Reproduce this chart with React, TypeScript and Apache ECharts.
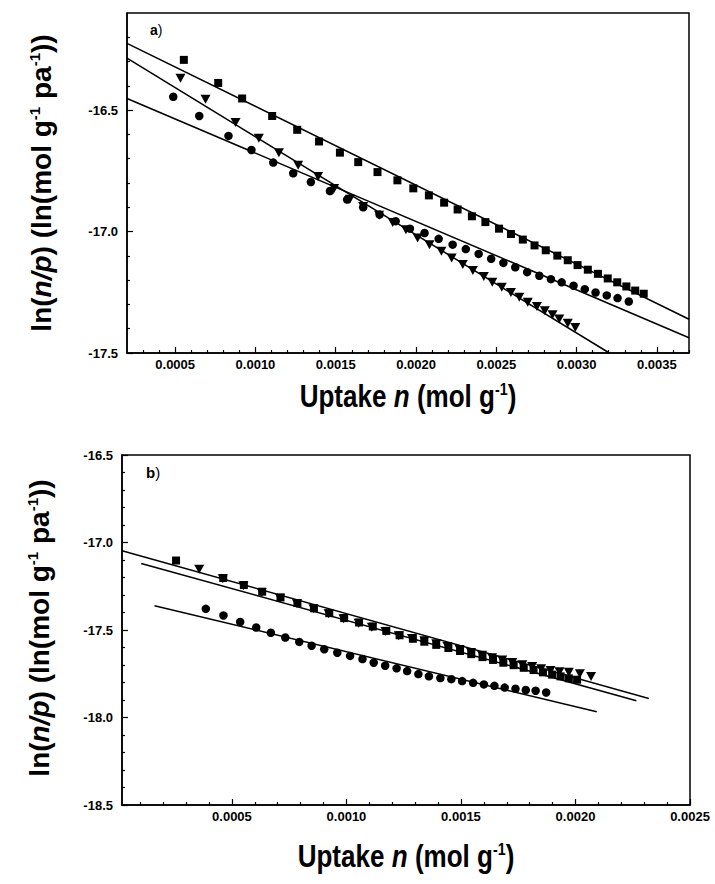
import React, { useEffect, useRef } from "react";
import * as echarts from "echarts";

// ---------- Panel a) data ----------
const aSquares: number[][] = [
  [0.000554, -16.293], [0.000768, -16.388], [0.000917, -16.452], [0.001104, -16.524],
  [0.00126, -16.581], [0.001396, -16.629], [0.001526, -16.675], [0.00164, -16.714],
  [0.00176, -16.755], [0.001884, -16.789], [0.001983, -16.822], [0.00208, -16.851],
  [0.002175, -16.881], [0.002259, -16.909], [0.002348, -16.937], [0.002432, -16.961],
  [0.002517, -16.988], [0.002591, -17.01], [0.002665, -17.033], [0.002738, -17.057],
  [0.002808, -17.077], [0.00288, -17.099], [0.002945, -17.118], [0.003006, -17.138],
  [0.00307, -17.157], [0.003133, -17.174], [0.003194, -17.193], [0.003253, -17.209],
  [0.00331, -17.226], [0.003365, -17.243], [0.003418, -17.256],
];
const aCircles: number[][] = [
  [0.000488, -16.445], [0.00065, -16.524], [0.000832, -16.606], [0.000975, -16.664],
  [0.001111, -16.716], [0.001235, -16.76], [0.001345, -16.796], [0.001464, -16.833],
  [0.001571, -16.868], [0.001671, -16.9], [0.001773, -16.93], [0.001873, -16.957],
  [0.001962, -16.988], [0.002053, -17.006], [0.002141, -17.03], [0.002228, -17.054],
  [0.00231, -17.072], [0.00239, -17.092], [0.002468, -17.112], [0.002544, -17.129],
  [0.002618, -17.147], [0.002692, -17.167], [0.002768, -17.182], [0.00284, -17.196],
  [0.002907, -17.209], [0.002981, -17.223], [0.003051, -17.237], [0.003118, -17.251],
  [0.003188, -17.263], [0.003255, -17.274], [0.003325, -17.288],
];
const aTriangles: number[][] = [
  [0.000533, -16.369], [0.000689, -16.455], [0.000876, -16.551], [0.001021, -16.616],
  [0.001146, -16.675], [0.001266, -16.727], [0.00139, -16.773], [0.00149, -16.823],
  [0.001588, -16.867], [0.001671, -16.897], [0.00177, -16.933], [0.001855, -16.963],
  [0.001937, -16.992], [0.00201, -17.026], [0.002084, -17.054], [0.002158, -17.081],
  [0.002222, -17.109], [0.002291, -17.136], [0.002354, -17.16], [0.002422, -17.185],
  [0.002475, -17.209], [0.002534, -17.229], [0.002591, -17.251], [0.002643, -17.27],
  [0.002696, -17.291], [0.002753, -17.309], [0.002802, -17.326], [0.00285, -17.343],
  [0.002892, -17.36], [0.002945, -17.377], [0.002992, -17.395],
];
const aFitSquares: number[][] = [[0.0002, -16.225], [0.0037, -17.361]];
const aFitTriangles: number[][] = [[0.0002, -16.286], [0.003204, -17.5]];
const aFitCircles: number[][] = [[0.0002, -16.452], [0.0037, -17.437]];

// ---------- Panel b) data ----------
const bSquares: number[][] = [
  [0.000256, -17.103], [0.000462, -17.203], [0.000552, -17.243], [0.000632, -17.281],
  [0.000712, -17.314], [0.000786, -17.346], [0.000858, -17.376], [0.000925, -17.404],
  [0.00099, -17.432], [0.001055, -17.457], [0.001115, -17.48], [0.001174, -17.505],
  [0.001232, -17.53], [0.00129, -17.55], [0.00134, -17.567], [0.001392, -17.585],
  [0.001445, -17.603], [0.001496, -17.62], [0.001545, -17.638], [0.001594, -17.655],
  [0.00164, -17.671], [0.001685, -17.687], [0.00173, -17.701], [0.001774, -17.716],
  [0.001817, -17.729], [0.001858, -17.742], [0.001898, -17.755], [0.001935, -17.765],
  [0.001971, -17.776], [0.002007, -17.784],
];
const bCircles: number[][] = [
  [0.000386, -17.379], [0.000463, -17.417], [0.000536, -17.454], [0.000606, -17.486],
  [0.00067, -17.516], [0.000733, -17.543], [0.000794, -17.568], [0.000848, -17.59],
  [0.000903, -17.61], [0.00096, -17.63], [0.001016, -17.648], [0.00107, -17.666],
  [0.001119, -17.687], [0.001169, -17.704], [0.001219, -17.719], [0.001265, -17.735],
  [0.001314, -17.752], [0.00136, -17.765], [0.00141, -17.775], [0.001458, -17.781],
  [0.001505, -17.792], [0.001553, -17.802], [0.0016, -17.811], [0.001646, -17.819],
  [0.001691, -17.829], [0.001738, -17.836], [0.001783, -17.843], [0.001826, -17.847],
  [0.001872, -17.857],
];
const bTriangles: number[][] = [
  [0.000357, -17.153], [0.00046, -17.207], [0.00055, -17.247], [0.00063, -17.286],
  [0.00071, -17.318], [0.000784, -17.35], [0.000856, -17.379], [0.000922, -17.407],
  [0.000987, -17.436], [0.001053, -17.461], [0.001111, -17.484], [0.00117, -17.508],
  [0.001228, -17.533], [0.001286, -17.548], [0.00134, -17.562], [0.001392, -17.578],
  [0.001441, -17.594], [0.001494, -17.611], [0.001544, -17.628], [0.001592, -17.644],
  [0.001636, -17.659], [0.00168, -17.672], [0.001724, -17.685], [0.001768, -17.698],
  [0.001811, -17.709], [0.00185, -17.722], [0.001891, -17.731], [0.00193, -17.738],
  [0.001971, -17.742], [0.002019, -17.75], [0.002068, -17.766],
];
const bFit1: number[][] = [[0.00002, -17.047], [0.00232, -17.891]];
const bFit2: number[][] = [[0.000104, -17.12], [0.002266, -17.904]];
const bFit3: number[][] = [[0.000162, -17.361], [0.002093, -17.967]];

// ---------- Axis ticks ----------
const aXLabels = [0.0005, 0.001, 0.0015, 0.002, 0.0025, 0.003, 0.0035];
const aXMinor = [0.0003, 0.0004, 0.0006, 0.0007, 0.0008, 0.0009, 0.0011, 0.0012, 0.0013, 0.0014,
  0.0016, 0.0017, 0.0018, 0.0019, 0.0021, 0.0022, 0.0023, 0.0024, 0.0026, 0.0027, 0.0028, 0.0029,
  0.0031, 0.0032, 0.0033, 0.0034, 0.0036, 0.0037];
const aYLabels = [-17.5, -17.0, -16.5];
const aYMinor = [-17.4, -17.3, -17.2, -17.1, -16.9, -16.8, -16.7, -16.6, -16.4, -16.3, -16.2];
const bXLabels = [0.0005, 0.001, 0.0015, 0.002, 0.0025];
const bXMinor = [0.0001, 0.0002, 0.0003, 0.0004, 0.0006, 0.0007, 0.0008, 0.0009, 0.0011, 0.0012,
  0.0013, 0.0014, 0.0016, 0.0017, 0.0018, 0.0019, 0.0021, 0.0022, 0.0023, 0.0024];
const bYLabels = [-18.5, -18.0, -17.5, -17.0, -16.5];
const bYMinor = [-18.4, -18.3, -18.2, -18.1, -17.9, -17.8, -17.7, -17.6, -17.4, -17.3, -17.2,
  -17.1, -16.9, -16.8, -16.7, -16.6];

const FONT = "'Liberation Sans', Arial, Helvetica, sans-serif";

function axisPair(isX: boolean, gridIndex: number, min: number, max: number,
  labels: number[], minors: number[], digits: number) {
  const base = {
    type: "value",
    gridIndex,
    min,
    max,
    position: isX ? "bottom" : "left",
    splitLine: { show: false },
    minorTick: { show: false },
  };
  return [
    {
      ...base,
      axisLine: { show: true, onZero: false, lineStyle: { color: "#000", width: 1.5 } },
      axisTick: { show: true, inside: true, length: 6, customValues: labels, lineStyle: { color: "#000", width: 1.2 } },
      axisLabel: {
        show: true, customValues: labels, color: "#000", fontWeight: "bold", fontSize: 13,
        fontFamily: FONT, margin: isX ? 5 : 9,
        formatter: (v: number) => v.toFixed(digits),
      },
    },
    {
      ...base,
      axisLine: { show: false, onZero: false },
      axisTick: { show: true, inside: true, length: 3, customValues: minors, lineStyle: { color: "#000", width: 1.2 } },
      axisLabel: { show: false },
    },
  ];
}

function scatter(data: number[][], xi: number, yi: number, symbol: string, size: any, rotate = 0) {
  return {
    type: "scatter", xAxisIndex: xi, yAxisIndex: yi, data, symbol, symbolSize: size,
    symbolRotate: rotate, itemStyle: { color: "#000", opacity: 1 }, z: 3,
  };
}
function fit(data: number[][], xi: number, yi: number) {
  return {
    type: "line", xAxisIndex: xi, yAxisIndex: yi, data, symbol: "none",
    lineStyle: { color: "#000", width: 1.5 }, z: 2,
  };
}

const richTitle = (size: number) => ({
  r: { fontSize: size, fontWeight: "bold", fontFamily: FONT, fill: "#000" },
  i: { fontSize: size, fontWeight: "bold", fontStyle: "italic", fontFamily: FONT, fill: "#000" },
  s: { fontSize: Math.round(size * 0.55), fontWeight: "bold", fontFamily: FONT, fill: "#000", verticalAlign: "top" },
});

export default function App() {
  const ref = useRef<HTMLDivElement>(null);
  useEffect(() => {
    if (!ref.current) return;
    const chart = echarts.init(ref.current, null, { renderer: "svg" });
    const [ax0, ax1] = axisPair(true, 0, 0.0002, 0.0037, aXLabels, aXMinor, 4);
    const [ay0, ay1] = axisPair(false, 0, -17.5, -16.1, aYLabels, aYMinor, 1);
    const [bx0, bx1] = axisPair(true, 1, 0.00002, 0.0025, bXLabels, bXMinor, 4);
    const [by0, by1] = axisPair(false, 1, -18.5, -16.5, bYLabels, bYMinor, 1);

    const yTitle = "{r|ln(}{i|n/p}{r|) (ln(mol g}{s|-1}{r| pa}{s|-1}{r|))}";
    const xTitle = "{r|Uptake }{i|n}{r| (mol g}{s|-1}{r|)}";

    chart.setOption({
      animation: false,
      backgroundColor: "#fff",
      grid: [
        { left: 127, top: 13, right: 26, height: 340, show: true, borderColor: "#000", borderWidth: 1.5 },
        { left: 122, top: 455, right: 25, height: 350, show: true, borderColor: "#000", borderWidth: 1.5 },
      ],
      xAxis: [ax0, ax1, bx0, bx1],
      yAxis: [ay0, ay1, by0, by1],
      series: [
        fit(aFitSquares, 0, 0),
        fit(aFitTriangles, 0, 0),
        fit(aFitCircles, 0, 0),
        scatter(aSquares, 0, 0, "rect", 8),
        scatter(aCircles, 0, 0, "circle", 8.5),
        scatter(aTriangles, 0, 0, "triangle", [10, 9], 180),
        fit(bFit1, 2, 2),
        fit(bFit2, 2, 2),
        fit(bFit3, 2, 2),
        scatter(bSquares, 2, 2, "rect", 8),
        scatter(bCircles, 2, 2, "circle", 8.5),
        scatter(bTriangles, 2, 2, "triangle", [10, 9], 180),
      ],
      graphic: [
        {
          type: "text", x: 150, y: 30,
          style: {
            text: "{b|a}{n|)}", textVerticalAlign: "middle",
            rich: {
              b: { fontSize: 14, fontWeight: "bold", fontFamily: FONT, fill: "#000" },
              n: { fontSize: 14, fontFamily: FONT, fill: "#000" },
            },
          },
        },
        {
          type: "text", x: 146, y: 472,
          style: {
            text: "{b|b}{n|)}", textVerticalAlign: "middle",
            rich: {
              b: { fontSize: 15, fontWeight: "bold", fontFamily: FONT, fill: "#000" },
              n: { fontSize: 15, fontFamily: FONT, fill: "#000" },
            },
          },
        },
        {
          type: "text", x: 41, y: 183, rotation: Math.PI / 2,
          style: { text: yTitle, textAlign: "center", textVerticalAlign: "middle", rich: richTitle(28) },
        },
        {
          type: "text", x: 39, y: 628, rotation: Math.PI / 2,
          style: { text: yTitle, textAlign: "center", textVerticalAlign: "middle", rich: richTitle(28) },
        },
        {
          type: "text", x: 408, y: 396, scaleX: 0.84,
          style: { text: xTitle, textAlign: "center", textVerticalAlign: "middle", rich: richTitle(31) },
        },
        {
          type: "text", x: 406, y: 856, scaleX: 0.84,
          style: { text: xTitle, textAlign: "center", textVerticalAlign: "middle", rich: richTitle(31) },
        },
      ],
    });
    return () => chart.dispose();
  }, []);
  return (
    <div
      ref={ref}
      style={{ position: "fixed", left: 0, top: 0, width: 715, height: 884, background: "#fff" }}
    />
  );
}
